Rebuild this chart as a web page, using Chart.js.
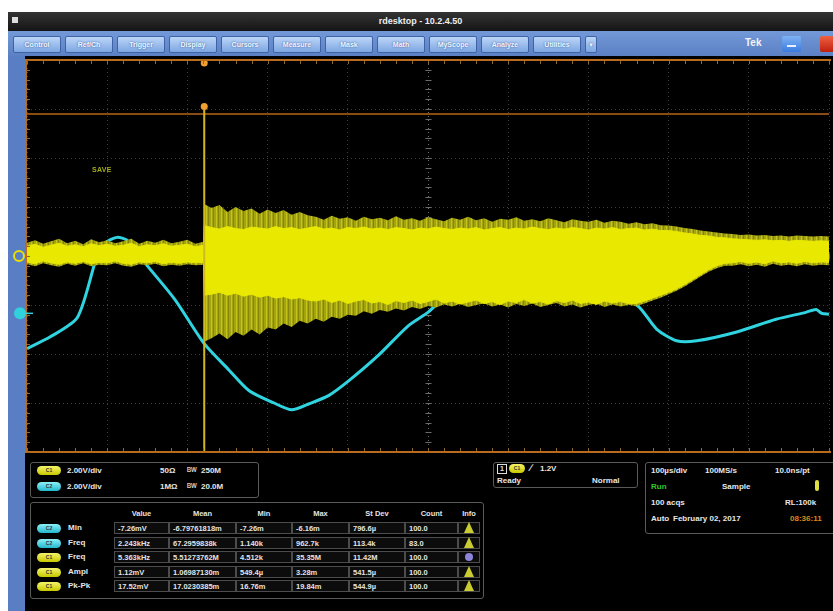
<!DOCTYPE html>
<html>
<head>
<meta charset="utf-8">
<title>rdesktop - 10.2.4.50</title>
<script src="https://cdn.jsdelivr.net/npm/chart.js@4.4.1/dist/chart.umd.min.js"></script>
<style>
html,body{margin:0;padding:0;background:#fff;}
body{width:833px;height:611px;position:relative;overflow:hidden;font-family:"Liberation Sans","DejaVu Sans",Arial,sans-serif;font-weight:bold;color:#e6e6e6;}
.abs{position:absolute;}
#win{left:8px;top:12px;width:825px;height:599px;background:#000;}
#title{left:8px;top:12px;width:825px;height:19px;background:linear-gradient(#343434,#151515);color:#eee;font-size:9px;line-height:19px;text-align:center;}
#ticon{left:12px;top:17px;width:6px;height:6px;background:#ddd;}
#toolbar{left:8px;top:31px;width:825px;height:25px;background:linear-gradient(#7499d8,#5b80c4);}
.btn{position:absolute;top:5px;height:15px;border:1px solid #3f62a4;border-radius:2px;background:linear-gradient(#bcd6f8,#7ea6e2);color:#f2f6ff;font-size:7px;line-height:15px;text-align:center;text-shadow:0 0 2px #2a4a8a;overflow:hidden;}
#tek{left:745px;top:37px;font-size:10px;color:#f4f4f4;}
#minb{left:782px;top:36px;width:19px;height:16px;background:linear-gradient(#7fb2f4,#3a7ae0);border-radius:2px;}
#minb div{position:absolute;left:5px;top:9px;width:9px;height:2px;background:#e8f0ff;}
#closeb{left:820px;top:36px;width:16px;height:16px;background:linear-gradient(#f06040,#c02010);border-radius:2px;}
#leftbar{left:8px;top:56px;width:17px;height:555px;background:#5a7ec4;}
#scope{position:absolute;left:0;top:56px;}
#savelbl{left:92px;top:166px;font-size:7px;color:#a4ac1c;letter-spacing:0.3px;}
.box{position:absolute;border:1px solid #5a5a5a;border-radius:3px;}
.pill{position:absolute;width:24px;height:9px;border-radius:5px;font-size:5px;line-height:9px;text-align:center;color:#333;}
.pill.c1{background:linear-gradient(#f4f46a,#c8c800);}
.pill.c2{background:linear-gradient(#8cf0f8,#22b8cc);}
.t{position:absolute;font-size:8px;white-space:nowrap;line-height:10px;}
.cell{position:absolute;height:12px;border:1px solid #4c4c4c;background:#0c0c0c;font-size:7.5px;line-height:12px;padding-left:3px;box-sizing:border-box;white-space:nowrap;overflow:hidden;color:#e4e4e4;}
.hdr{position:absolute;font-size:7.5px;text-align:center;line-height:10px;color:#e4e4e4;}
.warn{position:absolute;width:0;height:0;border-left:5px solid transparent;border-right:5px solid transparent;border-bottom:11px solid #c8cc30;}
.dot{position:absolute;width:8px;height:8px;border-radius:4px;background:#8c84d8;}
</style>
</head>
<body>
<div class="abs" id="win"></div>
<div class="abs" id="title">rdesktop - 10.2.4.50</div>
<div class="abs" id="ticon"></div>
<div class="abs" id="toolbar"></div>
<div class="abs" id="tek">Tek</div>
<div class="abs" id="minb"><div></div></div>
<div class="abs" id="closeb"></div>
<div class="abs" id="leftbar"></div>
<canvas id="scope" width="833" height="400"></canvas>
<div class="abs" id="savelbl">SAVE</div>
<div id="panel"></div>

<script>
// ---- toolbar ----
const menuLabels = ['Control','Ref/Ch','Trigger','Display','Cursors','Measure','Mask','Math','MyScope','Analyze','Utilities','▾'];

// ---- time base in divisions (100 µs/div), sampled positions of the Ch1 envelope ----
const envTime = [
  0,0.1,0.2,0.3,0.4,0.5,0.6,0.7,0.8,0.9,
  1.0,1.1,1.2,1.3,1.4,1.5,1.6,1.7,1.8,1.9,
  2.0,2.1,2.2,2.21,
  2.3,2.4,2.5,2.6,2.7,2.8,2.9,3.0,3.1,3.2,
  3.3,3.4,3.5,3.6,3.7,3.8,3.9,4.0,4.1,4.2,
  4.3,4.4,4.5,4.6,4.7,4.8,4.9,5.0,5.1,5.2,
  5.3,5.4,5.5,5.6,5.7,5.8,5.9,6.0,6.1,6.2,
  6.3,6.4,6.5,6.6,6.7,6.8,6.9,7.0,7.1,7.2,
  7.3,7.4,7.5,7.6,7.7,7.8,7.9,8.0,8.1,8.2,
  8.3,8.4,8.5,8.6,8.7,8.8,8.9,9.0,9.1,9.2,
  9.3,9.4,9.5,9.6,9.7,9.8,9.9,10.0
];

// Ch1 dense band, upper edge (divisions)
const ch1BandHigh = [
  0.2,0.24,0.18,0.22,0.26,0.2,0.23,0.19,0.25,0.21,
  0.24,0.2,0.22,0.26,0.19,0.23,0.21,0.25,0.2,0.22,
  0.24,0.19,0.22,0.62,
  0.58,0.55,0.6,0.56,0.54,0.59,0.57,0.55,0.6,0.56,
  0.58,0.54,0.57,0.6,0.55,0.57,0.53,0.58,0.56,0.59,
  0.55,0.57,0.54,0.58,0.56,0.53,0.57,0.55,0.59,0.56,
  0.54,0.57,0.55,0.58,0.53,0.56,0.58,0.54,0.57,0.55,
  0.59,0.56,0.54,0.57,0.55,0.58,0.56,0.53,0.57,0.55,
  0.58,0.54,0.56,0.57,0.53,0.55,0.52,0.52,0.5,0.47,
  0.45,0.42,0.41,0.38,0.37,0.35,0.34,0.33,0.32,0.33,
  0.31,0.32,0.3,0.32,0.31,0.3,0.31,0.3
];

// Ch1 dense band, lower edge
const ch1BandLow = [
  -0.12,-0.16,-0.1,-0.14,-0.17,-0.12,-0.15,-0.11,-0.16,-0.13,
  -0.14,-0.1,-0.15,-0.17,-0.12,-0.14,-0.11,-0.16,-0.13,-0.15,
  -0.12,-0.14,-0.13,-0.8,
  -0.78,-0.74,-0.8,-0.76,-0.82,-0.78,-0.84,-0.8,-0.86,-0.83,
  -0.88,-0.85,-0.9,-0.92,-0.88,-0.95,-0.9,-0.97,-0.92,-0.89,
  -0.96,-0.93,-0.99,-0.91,-0.95,-0.9,-0.97,-0.93,-0.88,-0.96,
  -0.92,-0.98,-0.94,-0.9,-0.97,-0.93,-0.99,-0.92,-0.95,-0.89,
  -0.96,-0.93,-0.98,-0.91,-0.95,-0.9,-0.97,-0.94,-0.99,-0.92,
  -0.96,-0.93,-0.97,-0.97,-0.92,-0.86,-0.8,-0.74,-0.67,-0.58,
  -0.48,-0.38,-0.28,-0.2,-0.15,-0.14,-0.11,-0.15,-0.12,-0.16,
  -0.1,-0.14,-0.12,-0.15,-0.11,-0.14,-0.12,-0.13
];

// Ch1 sparse noise fringe, upper edge
const ch1FringeHigh = [
  0.27,0.32,0.25,0.3,0.35,0.26,0.31,0.24,0.34,0.28,
  0.32,0.26,0.3,0.35,0.25,0.31,0.27,0.33,0.26,0.29,
  0.33,0.25,0.29,1.06,
  0.98,1.04,0.9,1.0,0.92,0.97,0.86,0.95,0.88,0.94,
  0.84,0.9,0.83,0.8,0.74,0.82,0.76,0.79,0.72,0.8,
  0.75,0.78,0.73,0.81,0.74,0.77,0.72,0.79,0.75,0.71,
  0.78,0.74,0.8,0.73,0.77,0.7,0.76,0.74,0.79,0.72,
  0.75,0.71,0.77,0.73,0.69,0.75,0.72,0.7,0.74,0.68,
  0.72,0.7,0.66,0.69,0.65,0.67,0.63,0.62,0.6,0.57,
  0.55,0.52,0.5,0.48,0.46,0.45,0.43,0.44,0.42,0.43,
  0.41,0.42,0.4,0.42,0.41,0.4,0.41,0.4
];

// Ch1 sparse noise fringe, lower edge
const ch1FringeLow = [
  -0.17,-0.21,-0.15,-0.19,-0.22,-0.16,-0.2,-0.15,-0.21,-0.18,
  -0.19,-0.15,-0.2,-0.22,-0.17,-0.19,-0.16,-0.21,-0.18,-0.2,
  -0.17,-0.19,-0.18,-1.75,
  -1.68,-1.58,-1.7,-1.55,-1.63,-1.5,-1.6,-1.46,-1.5,-1.38,
  -1.45,-1.32,-1.38,-1.28,-1.34,-1.24,-1.28,-1.2,-1.22,-1.13,
  -1.18,-1.1,-1.14,-1.07,-1.11,-1.04,-1.08,-1.02,-1.05,-0.99,
  -1.03,-0.98,-1.04,-1.0,-0.97,-1.03,-0.99,-1.05,-0.98,-1.02,
  -0.97,-1.04,-1.0,-0.96,-1.03,-0.99,-1.05,-1.0,-0.97,-1.04,
  -0.99,-1.03,-1.0,-1.02,-0.97,-0.91,-0.85,-0.78,-0.71,-0.62,
  -0.52,-0.42,-0.32,-0.25,-0.2,-0.2,-0.17,-0.21,-0.18,-0.22,
  -0.16,-0.2,-0.18,-0.21,-0.17,-0.2,-0.18,-0.19
];

// Ch2 (cyan) trace
const ch2Time = [0,0.29,0.63,0.87,0.97,1.12,1.25,1.46,1.84,2.21,2.52,2.77,3.08,3.3,3.51,3.76,4.01,4.38,4.75,5.0,5.16,5.87,6.61,7.36,7.61,7.85,8.1,8.35,8.85,9.34,9.71,9.84,9.91,10.0];
const ch2Level = [-1.89,-1.65,-1.25,-0.02,0.26,0.38,0.32,-0.12,-0.88,-1.79,-2.33,-2.75,-3.0,-3.14,-3.02,-2.85,-2.55,-2.03,-1.43,-1.15,-0.94,-0.84,-0.88,-0.92,-1.01,-1.49,-1.73,-1.73,-1.55,-1.29,-1.15,-1.09,-1.17,-1.19];

// trigger point, cursor level and channel ground markers (divisions)
const triggerTime = 2.21;
const triggerSpikeTop = 3.05;
const triggerMarkTop = 3.94;
const cursorLevel = 2.9;
const channelOffsets = [0, -1.17];

// ---- readout panels ----
const chanScale = ['2.00V/div','2.00V/div'];
const chanImped = ['50Ω','1MΩ'];
const chanBw = ['250M','20.0M'];
const measHeaders = ['Value','Mean','Min','Max','St Dev','Count','Info'];
const measNames = ['Min','Freq','Freq','Ampl','Pk-Pk'];
const measChan = ['c2','c2','c1','c1','c1'];
const measValues = [
  ['-7.26mV','-6.79761818m','-7.26m','-6.16m','796.6µ','100.0'],
  ['2.243kHz','67.2959838k','1.140k','962.7k','113.4k','83.0'],
  ['5.363kHz','5.51273762M','4.512k','35.35M','11.42M','100.0'],
  ['1.12mV','1.06987130m','549.4µ','3.28m','541.5µ','100.0'],
  ['17.52mV','17.0230385m','16.76m','19.84m','544.9µ','100.0']
];
const measInfo = ['warn','warn','dot','warn','warn'];
const acqLines = ['100µs/div','100MS/s','10.0ns/pt','Run','Sample','100 acqs','RL:100k','Auto','February 02, 2017','08:36:11'];

// toolbar buttons
const tb = document.getElementById('toolbar');
menuLabels.forEach((lab, i) => {
  const b = document.createElement('div');
  b.className = 'btn';
  const small = i === menuLabels.length - 1;
  b.style.left = (5 + i * 52) + 'px';
  b.style.width = (small ? 10 : 46) + 'px';
  b.textContent = lab;
  tb.appendChild(b);
});

// bottom readouts
const panel = document.getElementById('panel');
function el(cls, x, y, txt, extra) {
  const d = document.createElement('div');
  d.className = cls;
  d.style.left = x + 'px';
  d.style.top = y + 'px';
  if (txt !== undefined) d.textContent = txt;
  if (extra) Object.assign(d.style, extra);
  panel.appendChild(d);
  return d;
}
// channel box
el('box', 30, 462, undefined, {width:'227px', height:'34px'});
[0,1].forEach(r => {
  const y = 466 + r * 16;
  el('pill ' + (r ? 'c2' : 'c1'), 37, y, r ? 'C2' : 'C1');
  el('t', 67, y, chanScale[r]);
  el('t', 160, y, chanImped[r]);
  el('t', 187, y, 'ᴮᵂ', {fontSize:'9px', color:'#ccc'});
  el('t', 201, y, chanBw[r]);
});
// measurement table
el('box', 30, 502, undefined, {width:'452px', height:'95px'});
const colX = [114,169,236,292,349,405,458];
const colW = [55,67,56,57,56,53,22];
measHeaders.forEach((h, c) => el('hdr', colX[c], 509, h, {width: colW[c] + 'px'}));
measNames.forEach((n, r) => {
  const y = 522 + r * 14.6;
  el('pill ' + measChan[r], 37, y + 2, measChan[r].toUpperCase());
  el('t', 68, y + 1, n);
  measValues[r].forEach((v, c) => el('cell', colX[c], y, v, {width: colW[c] + 'px'}));
  el('cell', colX[6], y, '', {width: colW[6] + 'px'});
  if (measInfo[r] === 'warn') el('warn', colX[6] + 6, y);
  else el('dot', colX[6] + 7, y + 2);
});
// trigger box
el('box', 493, 462, undefined, {width:'143px', height:'24px'});
el('t', 497, 464, '1', {border:'1px solid #ddd', width:'8px', height:'8px', fontSize:'7px', lineHeight:'8px', textAlign:'center'});
el('pill c1', 509, 464, 'C1', {width:'16px'});
el('t', 530, 463, '∕', {fontSize:'10px'});
el('t', 540, 464, '1.2V');
el('t', 497, 476, 'Ready');
el('t', 592, 476, 'Normal');
// acquisition box
el('box', 645, 462, undefined, {width:'190px', height:'70px'});
el('t', 651, 466, acqLines[0]);
el('t', 705, 466, acqLines[1]);
el('t', 775, 466, acqLines[2]);
el('t', 651, 482, acqLines[3], {color:'#2ec82e'});
el('t', 722, 482, acqLines[4]);
el('t', 815, 480, '', {width:'4px', height:'11px', background:'#e0e040', borderRadius:'2px'});
el('t', 651, 498, acqLines[5]);
el('t', 785, 498, acqLines[6]);
el('t', 651, 514, acqLines[7]);
el('t', 673, 514, acqLines[8]);
el('t', 790, 514, acqLines[9], {color:'#d8881c'});

// ---- chart ----
const toPts = (xs, ys) => xs.map((x, i) => ({x, y: ys[i]}));

// streaky fill for the sparse noise fringe
const patCanvas = document.createElement('canvas');
patCanvas.width = 5; patCanvas.height = 8;
const pctx = patCanvas.getContext('2d');
pctx.fillStyle = '#a4a410'; pctx.fillRect(0, 0, 5, 8);
pctx.fillStyle = '#86860a'; pctx.fillRect(3, 0, 1, 8);
pctx.fillStyle = '#c4c41c'; pctx.fillRect(1, 0, 1, 8);
const fringePattern = pctx.createPattern(patCanvas, 'repeat');

const scopeDecor = {
  id: 'scopeDecor',
  beforeDraw(chart) {
    const {ctx, chartArea: a} = chart;
    ctx.save();
    ctx.fillStyle = '#000';
    ctx.fillRect(a.left, a.top, a.right - a.left, a.bottom - a.top);
    ctx.restore();
  },
  beforeDatasetsDraw(chart) {
    const {ctx, scales: {x, y}} = chart;
    const cx = Math.round(x.getPixelForValue(5)) + 0.5;
    const cy = Math.round(y.getPixelForValue(0)) + 0.5;
    ctx.save();
    ctx.strokeStyle = '#6c6c6c';
    ctx.lineWidth = 1;
    ctx.beginPath();
    for (let i = 0; i <= 50; i++) {
      const px = Math.round(x.getPixelForValue(i * 0.2)) + 0.5;
      ctx.moveTo(px, cy - 3); ctx.lineTo(px, cy + 3);
    }
    for (let i = 0; i <= 40; i++) {
      const py = Math.round(y.getPixelForValue(-4 + i * 0.2)) + 0.5;
      ctx.moveTo(cx - 3, py); ctx.lineTo(cx + 3, py);
    }
    ctx.stroke();
    ctx.restore();
  },
  afterDraw(chart) {
    const {ctx, chartArea: a, scales: {x, y}} = chart;
    ctx.save();
    // frame
    ctx.strokeStyle = '#b86c1c';
    ctx.lineWidth = 2;
    ctx.beginPath();
    ctx.moveTo(a.right + 2, a.top); ctx.lineTo(a.left - 1, a.top);
    ctx.lineTo(a.left - 1, a.bottom); ctx.lineTo(a.right + 2, a.bottom);
    ctx.stroke();
    ctx.strokeStyle = '#8a6a3a';
    ctx.lineWidth = 1;
    ctx.beginPath();
    for (let i = 0; i <= 50; i++) {
      const px = Math.round(x.getPixelForValue(i * 0.2)) + 0.5;
      ctx.moveTo(px, a.top + 1); ctx.lineTo(px, a.top + 4);
      ctx.moveTo(px, a.bottom - 1); ctx.lineTo(px, a.bottom - 4);
    }
    for (let i = 0; i <= 40; i++) {
      const py = Math.round(y.getPixelForValue(-4 + i * 0.2)) + 0.5;
      ctx.moveTo(a.left, py); ctx.lineTo(a.left + 3, py);
    }
    ctx.stroke();
    // channel ground markers
    const y1 = y.getPixelForValue(channelOffsets[0]);
    ctx.strokeStyle = '#e8e000';
    ctx.lineWidth = 2;
    ctx.beginPath(); ctx.arc(19, y1, 5, 0, Math.PI * 2); ctx.stroke();
    const y2 = y.getPixelForValue(channelOffsets[1]);
    ctx.fillStyle = '#30d0dc';
    ctx.beginPath(); ctx.arc(20, y2, 6, 0, Math.PI * 2); ctx.fill();
    ctx.strokeStyle = '#30d0dc';
    ctx.lineWidth = 1.5;
    ctx.beginPath(); ctx.moveTo(26, y2); ctx.lineTo(33, y2); ctx.stroke();
    ctx.restore();
  }
};

new Chart(document.getElementById('scope'), {
  type: 'line',
  data: {
    datasets: [
      { // trigger markers
        type: 'scatter',
        data: [{x: triggerTime, y: triggerMarkTop}, {x: triggerTime, y: triggerSpikeTop}],
        pointRadius: 3.5, pointBackgroundColor: '#f0a030', pointBorderWidth: 0,
        showLine: false, order: 0
      },
      { // trigger spike
        data: [{x: triggerTime, y: triggerSpikeTop}, {x: triggerTime, y: -4}],
        borderColor: '#d0b820', borderWidth: 2, pointRadius: 0, fill: false, order: 1
      },
      { // horizontal cursor
        data: [{x: 0, y: cursorLevel}, {x: 10, y: cursorLevel}],
        borderColor: '#b8661a', borderWidth: 1.5, pointRadius: 0, fill: false, order: 2
      },
      { // Ch1 dense band
        data: toPts(envTime, ch1BandHigh),
        borderColor: '#e8e800', borderWidth: 1, backgroundColor: '#e8e800',
        pointRadius: 0, fill: '+1', order: 3
      },
      {
        data: toPts(envTime, ch1BandLow),
        borderColor: '#e8e800', borderWidth: 1, pointRadius: 0, fill: false, order: 3
      },
      { // Ch1 sparse fringe
        data: toPts(envTime, ch1FringeHigh),
        borderColor: 'rgba(0,0,0,0)', borderWidth: 0, backgroundColor: fringePattern,
        pointRadius: 0, fill: '+1', order: 4
      },
      {
        data: toPts(envTime, ch1FringeLow),
        borderColor: 'rgba(0,0,0,0)', borderWidth: 0, pointRadius: 0, fill: false, order: 4
      },
      { // Ch2
        data: toPts(ch2Time, ch2Level),
        borderColor: '#2fd4e0', borderWidth: 3, pointRadius: 0, fill: false,
        tension: 0.25, order: 5
      }
    ]
  },
  options: {
    responsive: false,
    animation: false,
    events: [],
    layout: {padding: {left: 27, right: 0, top: 1, bottom: 1}},
    plugins: {legend: {display: false}, tooltip: {enabled: false}},
    scales: {
      x: {
        type: 'linear', min: 0, max: 10,
        ticks: {display: false, stepSize: 1},
        grid: {drawTicks: false, color: c => c.tick.value === 5 ? '#707070' : '#3c3c3c'},
        border: {display: false, dash: [1, 3]},
        afterFit: s => { s.height = 0; }
      },
      y: {
        type: 'linear', min: -4, max: 4,
        ticks: {display: false, stepSize: 1},
        grid: {drawTicks: false, color: c => c.tick.value === 0 ? '#606060' : '#3c3c3c'},
        border: {display: false, dash: [1, 3]},
        afterFit: s => { s.width = 0; }
      }
    }
  },
  plugins: [scopeDecor]
});
</script>
</body>
</html>
